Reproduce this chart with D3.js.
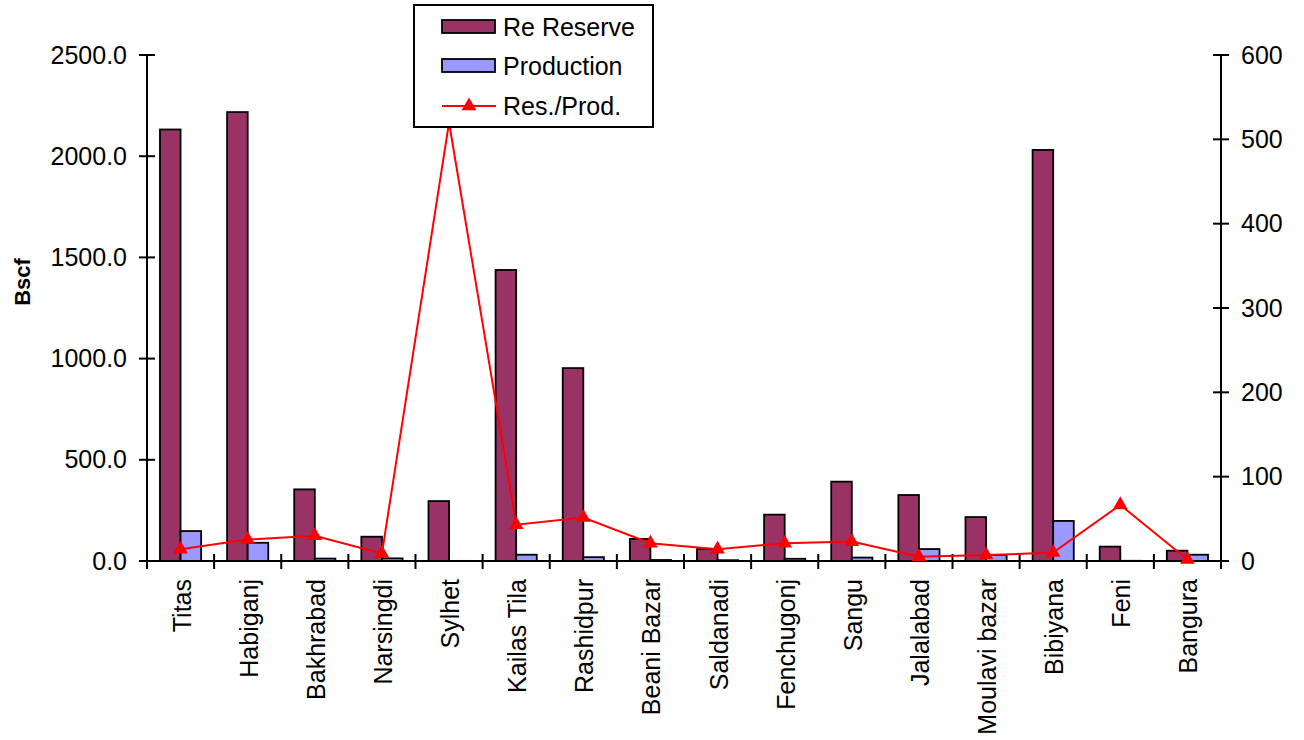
<!DOCTYPE html>
<html>
<head>
<meta charset="utf-8">
<script src="https://cdn.jsdelivr.net/npm/d3@7"></script>
<style>
  html, body { margin: 0; padding: 0; background: #fff; }
  svg { display: block; font-family: "Liberation Sans", Arial, sans-serif; }
</style>
</head>
<body>
<svg id="chart" width="1304" height="740"></svg>
<script>
// Gas fields: remaining reserve and annual production (Bscf), reserve/production ratio (years)
const fields = ["Titas", "Habiganj", "Bakhrabad", "Narsingdi", "Sylhet", "Kailas Tila",
  "Rashidpur", "Beani Bazar", "Saldanadi", "Fenchugonj", "Sangu", "Jalalabad",
  "Moulavi bazar", "Bibiyana", "Feni", "Bangura"];
const reserve = [2132, 2218, 354, 120, 296, 1438, 953, 109, 59, 229, 392, 326, 217, 2031, 71, 51];
const production = [148, 90, 12, 13, 0.6, 31, 19, 5, 4, 11, 17, 59, 30, 198, 1, 31];
const ratio = [14, 25.5, 30, 9, 520, 43, 51.5, 21, 14, 21, 23, 5, 7, 10, 66.5, 1.7];
const leftTicks = [0, 500, 1000, 1500, 2000, 2500];
const rightTicks = [0, 100, 200, 300, 400, 500, 600];
const seriesNames = ["Re Reserve", "Production", "Res./Prod."];

const colReserve = "#993366", colProd = "#9999ff", colLine = "#ff0000";
const plot = { left: 147, right: 1221, top: 55, bottom: 561 };
const svg = d3.select("#chart");

const x = d3.scaleBand().domain(fields).range([plot.left, plot.right]).padding(0);
const sub = d3.scaleBand().domain(["res", "prod"]).range([0, x.bandwidth()])
  .paddingInner(0).paddingOuter(0.63);
const yL = d3.scaleLinear().domain([0, 2500]).range([plot.bottom, plot.top]);
const yR = d3.scaleLinear().domain([0, 600]).range([plot.bottom, plot.top]);

// Bars
const g = svg.append("g");
g.selectAll("rect.res").data(fields).join("rect")
  .attr("x", d => x(d) + sub("res"))
  .attr("y", (d, i) => yL(reserve[i]))
  .attr("width", sub.bandwidth())
  .attr("height", (d, i) => yL(0) - yL(reserve[i]))
  .attr("fill", colReserve).attr("stroke", "#000").attr("stroke-width", 1.8);
g.selectAll("rect.prod").data(fields).join("rect")
  .attr("x", d => x(d) + sub("prod"))
  .attr("y", (d, i) => yL(production[i]))
  .attr("width", sub.bandwidth())
  .attr("height", (d, i) => yL(0) - yL(production[i]))
  .attr("fill", colProd).attr("stroke", "#000").attr("stroke-width", 1.8);

// Axes with crossing tick marks
function crossTicks(axis) {
  axis.select(".domain").remove();
  axis.selectAll(".tick line").remove();
}
const axL = svg.append("g").attr("transform", `translate(${plot.left},0)`)
  .call(d3.axisLeft(yL).tickValues(leftTicks).tickFormat(d3.format(".1f")).tickSize(0).tickPadding(20));
crossTicks(axL);
axL.selectAll("text").attr("font-size", 25).attr("fill", "#000").attr("font-family", "Liberation Sans, Arial, sans-serif");
leftTicks.forEach(t => svg.append("line").attr("x1", plot.left - 8).attr("x2", plot.left + 8)
  .attr("y1", yL(t)).attr("y2", yL(t)).attr("stroke", "#000").attr("stroke-width", 2));
svg.append("line").attr("x1", plot.left).attr("x2", plot.left).attr("y1", plot.top).attr("y2", plot.bottom)
  .attr("stroke", "#000").attr("stroke-width", 2);

const axR = svg.append("g").attr("transform", `translate(${plot.right},0)`)
  .call(d3.axisRight(yR).tickValues(rightTicks).tickFormat(d3.format("d")).tickSize(0).tickPadding(20));
crossTicks(axR);
axR.selectAll("text").attr("font-size", 25).attr("fill", "#000").attr("font-family", "Liberation Sans, Arial, sans-serif");
rightTicks.forEach(t => svg.append("line").attr("x1", plot.right - 8).attr("x2", plot.right + 8)
  .attr("y1", yR(t)).attr("y2", yR(t)).attr("stroke", "#000").attr("stroke-width", 2));
svg.append("line").attr("x1", plot.right).attr("x2", plot.right).attr("y1", plot.top).attr("y2", plot.bottom)
  .attr("stroke", "#000").attr("stroke-width", 2);

// Category axis
const bounds = fields.map(d => x(d)).concat([plot.right]);
bounds.forEach(b => svg.append("line").attr("x1", b).attr("x2", b)
  .attr("y1", plot.bottom - 7).attr("y2", plot.bottom + 8).attr("stroke", "#000").attr("stroke-width", 2));
svg.append("line").attr("x1", plot.left).attr("x2", plot.right).attr("y1", plot.bottom).attr("y2", plot.bottom)
  .attr("stroke", "#000").attr("stroke-width", 2);
svg.selectAll("text.cat").data(fields).join("text")
  .attr("transform", d => `translate(${x(d) + x.bandwidth() / 2 + 1},579) rotate(-90)`)
  .attr("text-anchor", "end").attr("dy", "0.36em")
  .attr("font-size", 25).attr("fill", "#000").text(d => d);

// Left axis title
svg.append("text").attr("transform", "translate(22,282) rotate(-90)")
  .attr("text-anchor", "middle").attr("dy", "0.36em")
  .attr("font-size", 22).attr("font-weight", "bold").text("Bscf");

// Reserve / production ratio line
const tri = d3.symbol().type(d3.symbolTriangle).size(95);
const lineGen = d3.line().x((d, i) => x(fields[i]) + x.bandwidth() / 2).y(d => yR(d));
svg.append("path").datum(ratio).attr("d", lineGen)
  .attr("fill", "none").attr("stroke", colLine).attr("stroke-width", 2);
svg.selectAll("path.mk").data(ratio).join("path")
  .attr("transform", (d, i) => `translate(${x(fields[i]) + x.bandwidth() / 2},${yR(d)})`)
  .attr("d", tri).attr("fill", colLine);

// Legend
const lg = svg.append("g");
lg.append("rect").attr("x", 414).attr("y", 5).attr("width", 239).attr("height", 122)
  .attr("fill", "#fff").attr("stroke", "#000").attr("stroke-width", 2);
const rows = [27, 66, 106];
lg.append("rect").attr("x", 442).attr("y", 20).attr("width", 53).attr("height", 13)
  .attr("fill", colReserve).attr("stroke", "#000").attr("stroke-width", 1.8);
lg.append("rect").attr("x", 442).attr("y", 59).attr("width", 53).attr("height", 13)
  .attr("fill", colProd).attr("stroke", "#000").attr("stroke-width", 1.8);
lg.append("line").attr("x1", 442).attr("x2", 496).attr("y1", rows[2]).attr("y2", rows[2])
  .attr("stroke", colLine).attr("stroke-width", 2);
lg.append("path").attr("transform", `translate(469,${rows[2]})`).attr("d", tri).attr("fill", colLine);
seriesNames.forEach((s, i) => lg.append("text").attr("x", 503).attr("y", rows[i])
  .attr("dy", "0.36em").attr("font-size", 25).attr("fill", "#000").text(s));
</script>
</body>
</html>
